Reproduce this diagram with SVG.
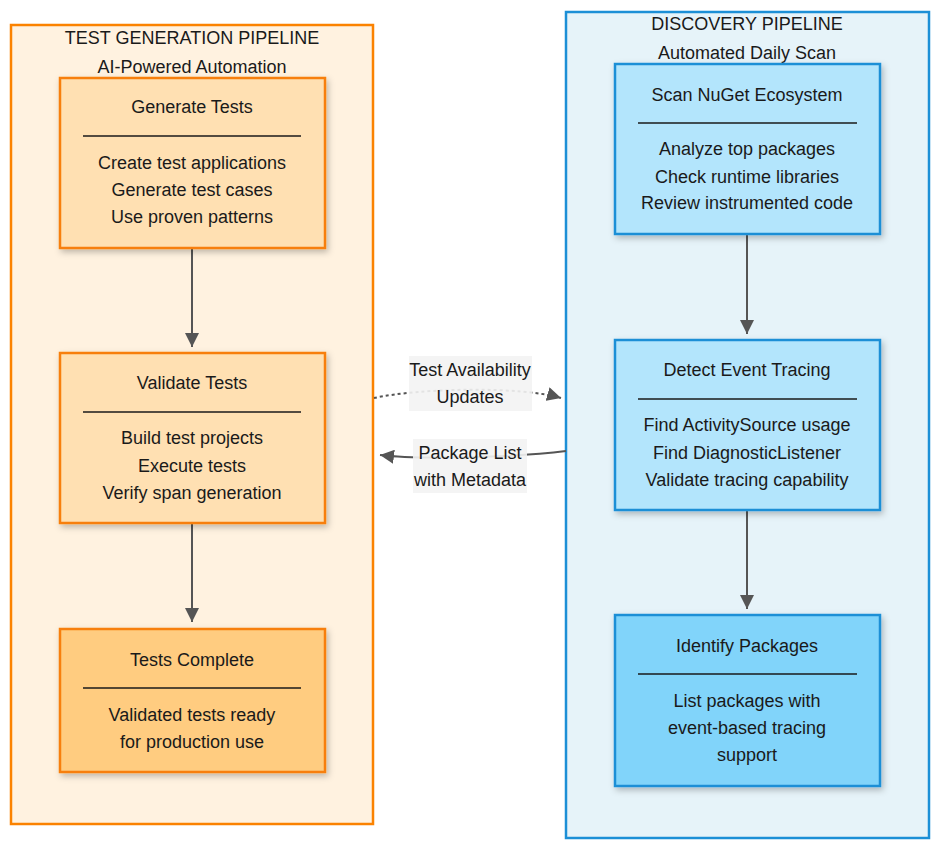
<svg xmlns="http://www.w3.org/2000/svg" width="940" height="850" viewBox="0 0 940 850">
<style>
text{font-family:"Liberation Sans",Arial,sans-serif;font-size:18px;fill:#1a1a1a;text-anchor:middle;dominant-baseline:central}
.cl-o{fill:#FFF2E0;stroke:#FB8200;stroke-width:2.5}
.cl-b{fill:#E6F3F9;stroke:#1C8FD6;stroke-width:2.5}
.n-o{fill:#FFE0B2;stroke:#F77F0A;stroke-width:2.5;filter:url(#sh)}
.n-o2{fill:#FFCC80;stroke:#F77F0A;stroke-width:2.5;filter:url(#sh)}
.n-b{fill:#B3E5FC;stroke:#1C8FD6;stroke-width:2.5;filter:url(#sh)}
.n-b2{fill:#81D4FA;stroke:#1C8FD6;stroke-width:2.5;filter:url(#sh)}
.div{stroke:#1a1a1a;stroke-width:1.5}
.e{fill:none;stroke:#555;stroke-width:2}
.lbl{fill:#f3f3f3;opacity:0.9}
</style>
<defs>
<filter id="sh" x="-10%" y="-10%" width="130%" height="130%"><feDropShadow dx="2" dy="3" stdDeviation="3" flood-color="#000" flood-opacity="0.25"/></filter>
<marker id="ah" markerUnits="userSpaceOnUse" viewBox="0 0 10 10" markerWidth="14" markerHeight="14" refX="10" refY="5" orient="auto"><path d="M0,0 L10,5 L0,10 z" fill="#555"/></marker>
</defs>
<g id="cluster-testgen">
<rect class="cl-o" x="11" y="25" width="362" height="799"/>
<text x="192" y="38">TEST GENERATION PIPELINE</text>
<text x="192" y="67">AI-Powered Automation</text>
</g>
<g id="cluster-discovery">
<rect class="cl-b" x="566" y="12" width="363" height="826"/>
<text x="747" y="24">DISCOVERY PIPELINE</text>
<text x="747" y="53">Automated Daily Scan</text>
</g>
<g id="connectors">
<path class="e" d="M192,248 V347" marker-end="url(#ah)"/>
<path class="e" d="M192,524 V622" marker-end="url(#ah)"/>
<path class="e" d="M747,234 V334" marker-end="url(#ah)"/>
<path class="e" d="M747,510 V609" marker-end="url(#ah)"/>
<path class="e" d="M374,398 C420,388 520,386 561,398" stroke-dasharray="3,3" marker-end="url(#ah)"/>
<path class="e" d="M566,451 C520,457 420,460 380,455" marker-end="url(#ah)"/>
<rect class="lbl" x="409" y="356" width="123" height="55"/>
<text x="470" y="370">Test Availability</text>
<text x="470" y="397">Updates</text>
<rect class="lbl" x="413" y="439" width="114" height="54"/>
<text x="470" y="453">Package List</text>
<text x="470" y="480">with Metadata</text>
</g>
<g id="generate-tests">
<rect class="n-o" x="60" y="78" width="265" height="170"/>
<text x="192" y="107">Generate Tests</text>
<line class="div" x1="83" y1="136" x2="301" y2="136"/>
<text x="192" y="163">Create test applications</text>
<text x="192" y="190">Generate test cases</text>
<text x="192" y="217">Use proven patterns</text>
</g>
<g id="validate-tests">
<rect class="n-o" x="60" y="353" width="265" height="170"/>
<text x="192" y="383">Validate Tests</text>
<line class="div" x1="83" y1="412" x2="301" y2="412"/>
<text x="192" y="438">Build test projects</text>
<text x="192" y="466">Execute tests</text>
<text x="192" y="493">Verify span generation</text>
</g>
<g id="tests-complete">
<rect class="n-o2" x="60" y="629" width="265" height="143"/>
<text x="192" y="660">Tests Complete</text>
<line class="div" x1="83" y1="688" x2="301" y2="688"/>
<text x="192" y="715">Validated tests ready</text>
<text x="192" y="742">for production use</text>
</g>
<g id="scan-nuget">
<rect class="n-b" x="615" y="64" width="265" height="170"/>
<text x="747" y="95">Scan NuGet Ecosystem</text>
<line class="div" x1="638" y1="123" x2="857" y2="123"/>
<text x="747" y="149">Analyze top packages</text>
<text x="747" y="177">Check runtime libraries</text>
<text x="747" y="203">Review instrumented code</text>
</g>
<g id="detect-event-tracing">
<rect class="n-b" x="615" y="340" width="265" height="170"/>
<text x="747" y="370">Detect Event Tracing</text>
<line class="div" x1="638" y1="399" x2="857" y2="399"/>
<text x="747" y="425">Find ActivitySource usage</text>
<text x="747" y="453">Find DiagnosticListener</text>
<text x="747" y="480">Validate tracing capability</text>
</g>
<g id="identify-packages">
<rect class="n-b2" x="615" y="615" width="265" height="171"/>
<text x="747" y="646">Identify Packages</text>
<line class="div" x1="638" y1="674" x2="857" y2="674"/>
<text x="747" y="701">List packages with</text>
<text x="747" y="728">event-based tracing</text>
<text x="747" y="755">support</text>
</g>
</svg>
